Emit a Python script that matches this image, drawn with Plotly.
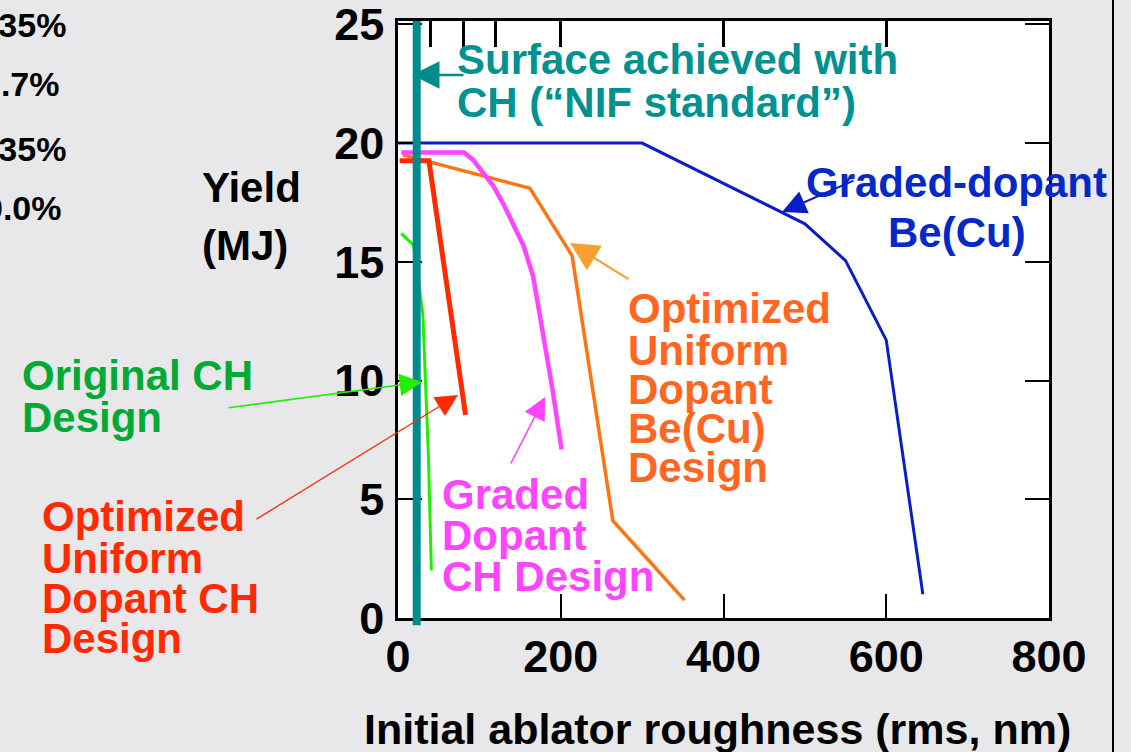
import plotly.graph_objects as go

# ---------------- data ----------------
blue_x = [0, 300, 500, 550, 600, 645]
blue_y = [20.0, 20.0, 16.6, 15.05, 11.7, 1.0]

magenta_x = [4, 81, 92, 104, 117, 130, 142, 154, 166, 178, 190, 201]
magenta_y = [19.6, 19.6, 19.3, 18.8, 18.2, 17.4, 16.6, 15.7, 14.4, 12.1, 9.6, 7.1]

red_x = [2, 38, 83]
red_y = [19.25, 19.25, 8.55]

orange_x = [6, 162, 214, 264, 352]
orange_y = [19.5, 18.1, 15.25, 4.1, 0.75]

green_x = [4, 19, 30.5, 37.5, 41]
green_y = [16.2, 15.7, 12.8, 6.7, 2.0]

surface_x = 23  # NIF standard surface roughness (nm)

x_ticks = [0, 200, 400, 600, 800]
x_top_ticks = [40, 80, 120, 200, 400, 600]
y_ticks = [0, 5, 10, 15, 20, 25]

# ---------------- layout helpers ----------------
W, H = 1131, 752
L, R, T, B = 398, 1049, 21, 618
FONT = "Liberation Sans, Arial, Helvetica, sans-serif"

TEAL = "#008C8C"
TEAL_TXT = "#009191"
BLUE = "#0A1EC8"
BLUE_TXT = "#0528C8"
MAGENTA = "#FF44FF"
RED = "#FF2A00"
ORANGE = "#FF7410"
ORANGE_TXT = "#FF6622"
ORANGE_ARROW = "#F7A030"
GREEN = "#22EE00"
GREEN_TXT = "#00AA33"


def px(xp, yp):
    return (xp - L) / (R - L), (B - yp) / (B - T)


annotations = []


def text_lines(lines, xp, ys, color, size=42, anchor="left"):
    for line, yp in zip(lines, ys):
        xx, yy = px(xp, yp)
        annotations.append(dict(
            x=xx, y=yy, xref="paper", yref="paper", text=line,
            showarrow=False, xanchor=anchor, yanchor="middle",
            font=dict(family=FONT, size=size, color=color, weight="bold")))


def arrow(tip, tail, color, width, size, head=2):
    xx, yy = px(*tip)
    annotations.append(dict(
        x=xx, y=yy, xref="paper", yref="paper", text="",
        showarrow=True, ax=tail[0] - tip[0], ay=tail[1] - tip[1],
        axref="pixel", ayref="pixel", arrowcolor=color, arrowwidth=width,
        arrowsize=size, arrowhead=head, standoff=0))


fig = go.Figure()

fig.add_trace(go.Scatter(x=blue_x, y=blue_y, mode="lines",
                         line=dict(color=BLUE, width=3), hoverinfo="skip"))
fig.add_trace(go.Scatter(x=orange_x, y=orange_y, mode="lines",
                         line=dict(color=ORANGE, width=3.5), hoverinfo="skip"))
fig.add_trace(go.Scatter(x=magenta_x, y=magenta_y, mode="lines",
                         line=dict(color=MAGENTA, width=4.5), hoverinfo="skip"))
fig.add_trace(go.Scatter(x=red_x, y=red_y, mode="lines",
                         line=dict(color=RED, width=5), hoverinfo="skip"))
fig.add_trace(go.Scatter(x=green_x, y=green_y, mode="lines",
                         line=dict(color=GREEN, width=3), hoverinfo="skip"))
# hidden trace so the top tick axis is drawn
fig.add_trace(go.Scatter(x=[x_top_ticks[0]], y=[0], xaxis="x2", mode="markers",
                         marker=dict(opacity=0), hoverinfo="skip"))

# ---------------- texts ----------------
text_lines(["Surface achieved with", "CH (\u201cNIF standard\u201d)"], 455, [59, 103], TEAL_TXT)
text_lines(["Graded-dopant", "Be(Cu)"], 956.5, [182, 232], BLUE_TXT, anchor="center")
text_lines(["Optimized", "Uniform", "Dopant", "Be(Cu)", "Design"], 626,
           [308, 350, 389, 428, 467], ORANGE_TXT)
text_lines(["Graded", "Dopant", "CH Design"], 440, [494, 535, 576], MAGENTA)
text_lines(["Optimized", "Uniform", "Dopant CH", "Design"], 40, [516, 558, 598, 638], RED)
text_lines(["Original CH", "Design"], 20, [376, 417], GREEN_TXT)
text_lines(["Yield", "(MJ)"], 200, [187, 245], "black")
text_lines(["Initial ablator roughness (rms, nm)"], 717, [729], "black", size=43, anchor="center")

# clipped texts at the left edge
for t, xr, yp in zip(["0.35%", "0.7%", "1.35%", "0.0%"], [67.5, 62, 67.5, 64], [25, 84, 149, 208]):
    text_lines([t], xr, [yp], "black", size=34, anchor="right")

# ---------------- arrows ----------------
arrow((412, 75), (465, 75), TEAL, 2.5, 2.2)
arrow((782, 212), (855, 180), BLUE, 2, 2.4)
arrow((570, 243), (630, 280), ORANGE_ARROW, 2.2, 2.6)
arrow((545, 397), (510, 465), MAGENTA, 1.6, 2.8)
arrow((458, 395), (255, 520), RED, 1.3, 3.4)
arrow((422, 382), (227, 408), GREEN, 1.6, 2.8)

tickfont = dict(family=FONT, size=45, color="black", weight="bold")

fig.update_layout(
    width=W, height=H, autosize=False,
    margin=dict(l=L, r=W - R, t=T, b=H - B, pad=0, autoexpand=False),
    paper_bgcolor="#E8E8EA", plot_bgcolor="white",
    showlegend=False,
    annotations=annotations,
    xaxis=dict(range=[0, 800], tickvals=x_ticks, ticks="inside", ticklen=24,
               tickwidth=1.5, tickcolor="black", showline=True, linecolor="black",
               linewidth=2.5, mirror=True, showgrid=False, zeroline=False,
               tickfont=tickfont, ticklabelstandoff=-3, ticklabeloverflow="allow",
               automargin=False, fixedrange=True),
    xaxis2=dict(range=[0, 800], overlaying="x", side="top", tickvals=x_top_ticks,
                ticks="inside", ticklen=26, tickwidth=3, tickcolor="black",
                showticklabels=False, showline=False, showgrid=False, zeroline=False,
                automargin=False),
    yaxis=dict(range=[0, 25.14], tickvals=y_ticks, ticks="inside", ticklen=24,
               tickwidth=1.5, tickcolor="black", showline=True, linecolor="black",
               linewidth=2.5, mirror="ticks", showgrid=False, zeroline=False,
               tickfont=tickfont, ticklabelstandoff=2, ticklabeloverflow="allow",
               automargin=False, fixedrange=True),
    shapes=[
        dict(type="line", xref="x", yref="paper", x0=surface_x, x1=surface_x,
             y0=-0.012, y1=1, line=dict(color=TEAL, width=8), layer="above"),
        dict(type="line", xref="paper", yref="paper", x0=(1113 - L) / (R - L),
             x1=(1113 - L) / (R - L), y0=(B - H) / (B - T), y1=B / (B - T),
             line=dict(color="black", width=2)),
    ],
)

fig.write_html("out.html", config={"displayModeBar": False},
               post_script="document.body.style.margin='0';document.body.style.padding='0';")
